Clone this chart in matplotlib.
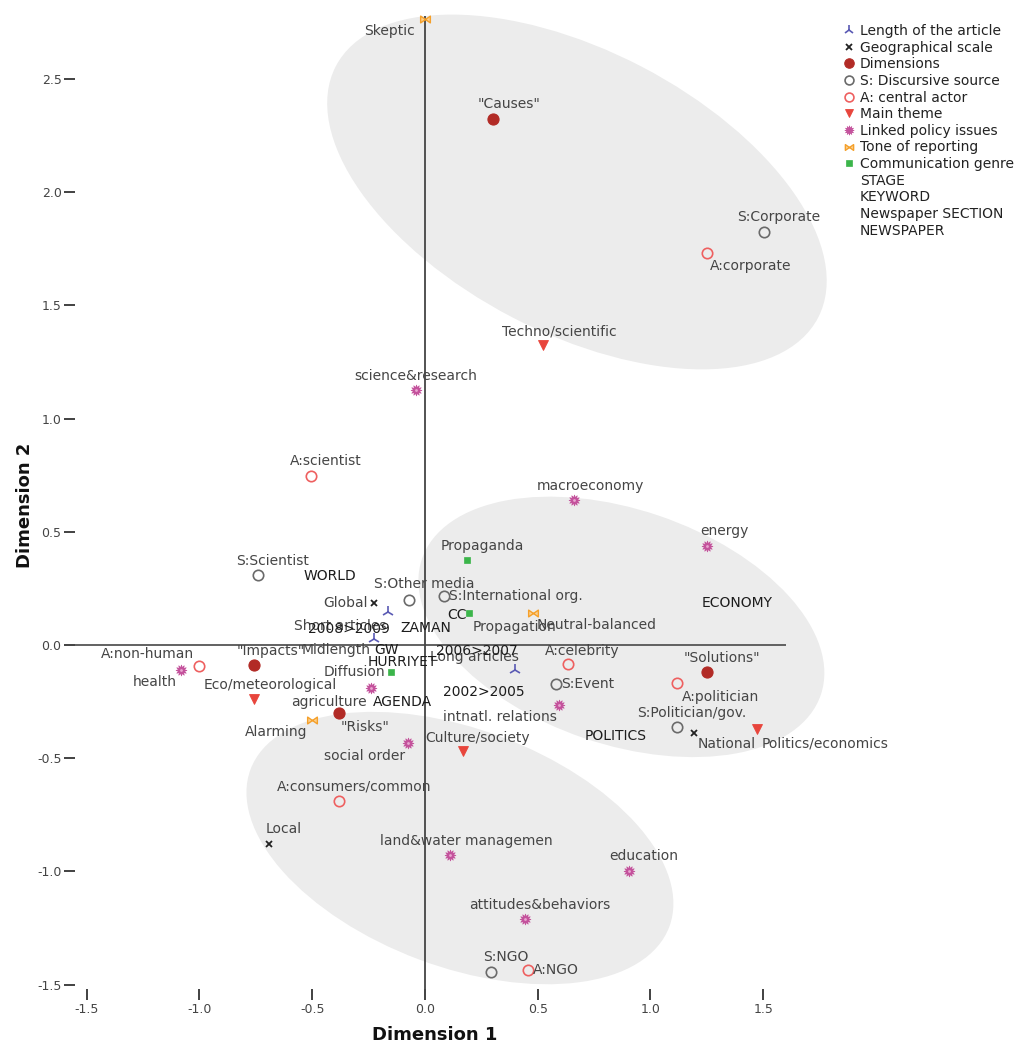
import matplotlib
matplotlib.use("Agg")
import matplotlib.pyplot as plt
from matplotlib.patches import Ellipse
from matplotlib.path import Path
from matplotlib.lines import Line2D

# ---- category coordinates on the two dimensions ----
length_labels = ["Short articles", "Midlength", "Long articles"]
length_x = [-0.164, -0.226, 0.399]
length_y = [0.146, 0.027, -0.110]

geo_labels = ["Global", "National", "Local"]
geo_x = [-0.226, 1.193, -0.692]
geo_y = [0.186, -0.389, -0.879]

dim_labels = ['"Causes"', '"Impacts"', '"Risks"', '"Solutions"']
dim_x = [0.302, -0.758, -0.381, 1.251]
dim_y = [2.323, -0.088, -0.300, -0.119]

source_labels = ["S:Corporate", "S:Scientist", "S:Other media", "S:International org.",
                 "S:Event", "S:Politician/gov.", "S:NGO"]
source_x = [1.503, -0.741, -0.071, 0.084, 0.581, 1.118, 0.293]
source_y = [1.824, 0.309, 0.199, 0.216, -0.172, -0.362, -1.444]

actor_labels = ["A:corporate", "A:scientist", "A:non-human", "A:celebrity",
                "A:politician", "A:consumers/common", "A:NGO"]
actor_x = [1.251, -0.506, -1.002, 0.634, 1.118, -0.381, 0.457]
actor_y = [1.731, 0.746, -0.093, -0.084, -0.168, -0.689, -1.435]

theme_labels = ["Techno/scientific", "Eco/meteorological", "Culture/society", "Politics/economics"]
theme_x = [0.523, -0.758, 0.169, 1.472]
theme_y = [1.325, -0.239, -0.468, -0.371]

policy_labels = ["science&research", "macroeconomy", "energy", "health", "agriculture",
                 "intnatl. relations", "social order", "land&water managemen",
                 "education", "attitudes&behaviors"]
policy_x = [-0.040, 0.661, 1.251, -1.082, -0.239, 0.594, -0.075, 0.111, 0.905, 0.443]
policy_y = [1.126, 0.640, 0.437, -0.110, -0.190, -0.265, -0.433, -0.928, -0.998, -1.210]

tone_labels = ["Skeptic", "Neutral-balanced", "Alarming"]
tone_x = [0.000, 0.479, -0.501]
tone_y = [2.765, 0.141, -0.331]

genre_labels = ["Propaganda", "Propagation", "Diffusion"]
genre_x = [0.186, 0.195, -0.151]
genre_y = [0.375, 0.141, -0.119]

# categories shown as text only
stage_labels = ["2002>2005", "2006>2007", "2008>2009"]
stage_x = [0.262, 0.231, -0.337]
stage_y = [-0.208, -0.027, 0.071]

keyword_labels = ["CC", "GW"]
keyword_x = [0.142, -0.169]
keyword_y = [0.133, -0.022]

section_labels = ["WORLD", "ECONOMY", "POLITICS", "AGENDA"]
section_x = [-0.421, 1.384, 0.847, -0.102]
section_y = [0.305, 0.186, -0.402, -0.252]

paper_labels = ["ZAMAN", "HURRIYET"]
paper_x = [0.004, -0.102]
paper_y = [0.075, -0.075]

legend_names = ["Length of the article", "Geographical scale", "Dimensions",
                "S: Discursive source", "A: central actor", "Main theme",
                "Linked policy issues", "Tone of reporting", "Communication genre",
                "STAGE", "KEYWORD", "Newspaper SECTION", "NEWSPAPER"]

# label placement relative to its marker, in pixels: (dx, dy, horizontal alignment)
label_offsets = {
    "Short articles": (-48, -14, "center"), "Midlength": (-38, -11, "center"),
    "Long articles": (-41, 13, "center"),
    "Global": (-6, 0, "right"), "National": (33, -11, "center"), "Local": (15, 15, "center"),
    '"Causes"': (16, 15, "center"), '"Impacts"': (17, 14, "center"),
    '"Risks"': (26, -14, "center"), '"Solutions"': (15, 14, "center"),
    "S:Corporate": (15, 15, "center"), "S:Scientist": (15, 14, "center"),
    "S:Other media": (15, 16, "center"), "S:International org.": (5, 0, "left"),
    "S:Event": (5, 0, "left"), "S:Politician/gov.": (15, 14, "center"),
    "S:NGO": (15, 15, "center"),
    "A:corporate": (44, -13, "center"), "A:scientist": (15, 15, "center"),
    "A:non-human": (-52, 12, "center"), "A:celebrity": (14, 13, "center"),
    "A:politician": (43, -14, "center"), "A:consumers/common": (15, 14, "center"),
    "A:NGO": (5, 0, "left"),
    "Techno/scientific": (16, 14, "center"), "Eco/meteorological": (16, 14, "center"),
    "Culture/society": (14, 13, "center"), "Politics/economics": (5, -15, "left"),
    "science&research": (0, 14, "center"), "macroeconomy": (16, 14, "center"),
    "energy": (17, 15, "center"), "health": (-26, -12, "center"),
    "agriculture": (-42, -14, "center"), "intnatl. relations": (-59, -12, "center"),
    "social order": (-43, -13, "center"), "land&water managemen": (16, 14, "center"),
    "education": (15, 15, "center"), "attitudes&behaviors": (15, 14, "center"),
    "Skeptic": (-35, -12, "center"), "Neutral-balanced": (64, -12, "center"),
    "Alarming": (-36, -12, "center"),
    "Propaganda": (15, 14, "center"), "Propagation": (46, -14, "center"),
    "Diffusion": (-6, 0, "right"),
}

# bow-tie marker for tone of reporting
bowtie = Path([(-1, -0.7), (1, 0.7), (1, -0.7), (-1, 0.7), (-1, -0.7)],
              [Path.MOVETO, Path.LINETO, Path.LINETO, Path.LINETO, Path.CLOSEPOLY])

styles = [
    dict(marker="2", ms=9, mew=1.2, color="#5a5ab4", mfc="#5a5ab4"),
    dict(marker="x", ms=5, mew=1.3, color="#222222", mfc="#222222"),
    dict(marker="o", ms=8, mew=0.8, color="#b22b26", mfc="#b22b26"),
    dict(marker="o", ms=7.5, mew=1.2, color="#6a6a6a", mfc="none"),
    dict(marker="o", ms=7.5, mew=1.2, color="#ee6060", mfc="none"),
    dict(marker="v", ms=7, mew=0.6, color="#e8453c", mfc="#e8453c"),
    dict(marker=(12, 1, 0), ms=8, mew=0.5, color="#c4529c", mfc="#c4529c"),
    dict(marker=bowtie, ms=7, mew=1.0, color="#f5a02a", mfc="#fbd090"),
    dict(marker="s", ms=5, mew=0.5, color="#3bb54a", mfc="#3bb54a"),
]

groups = [
    (length_labels, length_x, length_y),
    (geo_labels, geo_x, geo_y),
    (dim_labels, dim_x, dim_y),
    (source_labels, source_x, source_y),
    (actor_labels, actor_x, actor_y),
    (theme_labels, theme_x, theme_y),
    (policy_labels, policy_x, policy_y),
    (tone_labels, tone_x, tone_y),
    (genre_labels, genre_x, genre_y),
]
text_groups = [
    (stage_labels, stage_x, stage_y),
    (keyword_labels, keyword_x, keyword_y),
    (section_labels, section_x, section_y),
    (paper_labels, paper_x, paper_y),
]

plt.rcParams["font.family"] = ["DejaVu Sans"]

fig = plt.figure(figsize=(10.21, 10.48), dpi=100)
ax = fig.add_axes([0.0739, 0.0562, 0.6957, 0.9289])
ax.set_xlim(-1.55, 1.60)
ax.set_ylim(-1.52, 2.78)

# shaded clusters
for (cx, cy), w, h, ang in [((0.674, 2.001), 2.41, 1.247, -27.4),
                            ((0.871, 0.080), 1.868, 1.037, -18.7),
                            ((0.155, -0.897), 1.983, 1.049, -20.5)]:
    ax.add_patch(Ellipse((cx, cy), w, h, angle=ang, facecolor="#ececec",
                         edgecolor="none", zorder=0, clip_on=False))

ax.axhline(0, color="#555555", lw=1.3, zorder=1)
ax.axvline(0, color="#444444", lw=1.3, zorder=1)

label_color = "#454545"
for (names, xs, ys), st in zip(groups, styles):
    ax.plot(xs, ys, linestyle="none", marker=st["marker"], ms=st["ms"], mew=st["mew"],
            mec=st["color"], mfc=st["mfc"], color=st["color"], zorder=3, clip_on=False)
    if st["marker"] == (12, 1, 0):
        ax.plot(xs, ys, linestyle="none", marker="o", ms=5.5, mew=0,
                mfc=st["color"], zorder=3)
        ax.plot(xs, ys, linestyle="none", marker="o", ms=2, mew=0,
                mfc="#e9a6d0", zorder=3)
    for name, x, y in zip(names, xs, ys):
        dx, dy, ha = label_offsets[name]
        ax.annotate(name, (x, y), xytext=(dx, dy), textcoords="offset pixels",
                    ha=ha, va="center", fontsize=10, color=label_color, zorder=4)

for names, xs, ys in text_groups:
    for name, x, y in zip(names, xs, ys):
        ax.text(x, y, name, ha="center", va="center", fontsize=10,
                color="#1c1c1c", zorder=4)

for sp in ax.spines.values():
    sp.set_visible(False)
ax.set_xticks([-1.5, -1.0, -0.5, 0.0, 0.5, 1.0, 1.5])
ax.set_yticks([-1.5, -1.0, -0.5, 0.0, 0.5, 1.0, 1.5, 2.0, 2.5])
ax.set_xticklabels([f"{v:.1f}" for v in ax.get_xticks()])
ax.set_yticklabels([f"{v:.1f}" for v in ax.get_yticks()])
ax.tick_params(axis="both", direction="out", length=8, width=1.3, color="#333333",
               labelsize=9, labelcolor="#444444", pad=2)

title_font = dict(fontweight="bold", fontsize=13, color="#111111")
fig.text(435 / 1021, 1 - 1035 / 1048, "Dimension 1", ha="center", va="center", **title_font)
fig.text(25 / 1021, 1 - 505 / 1048, "Dimension 2", ha="center", va="center",
         rotation=90, **title_font)

handles = []
for st in styles:
    handles.append(Line2D([], [], linestyle="none", marker=st["marker"], ms=st["ms"] * 0.85,
                          mew=st["mew"], mec=st["color"], mfc=st["mfc"]))
for _ in range(4):
    handles.append(Line2D([], [], linestyle="none"))
fig.legend(handles, legend_names, loc="upper left",
           bbox_to_anchor=(843 / 1021, 1 - 24 / 1048), frameon=False, fontsize=10,
           handlelength=0.8, handletextpad=0.4, labelspacing=0.19, borderaxespad=0,
           borderpad=0, labelcolor="#222222")

fig.savefig("out.png", dpi=100)
